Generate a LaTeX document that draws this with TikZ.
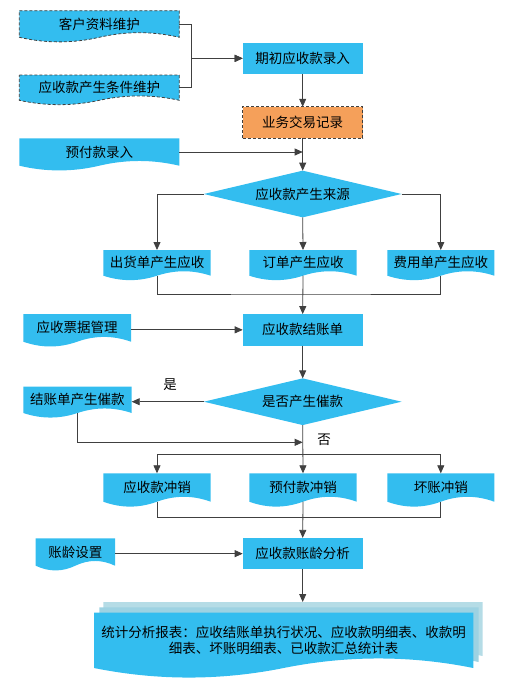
\documentclass[tikz,border=0pt]{standalone}
\usepackage{fontspec}
\newfontfamily\cjk{Noto Sans CJK SC}
\usetikzlibrary{shapes.geometric,arrows.meta}
\definecolor{cy}{HTML}{33BDEF}
\definecolor{orng}{HTML}{F5A05A}
\definecolor{backa}{HTML}{B5DCE6}
\definecolor{backb}{HTML}{9DD2E2}
\definecolor{ln}{HTML}{404040}
\newcommand\mkdoc[7]{%
  \pgfmathsetmacro\dw{#5-#3}%
  \pgfmathsetmacro\dh{#6-#4}%
  \pgfmathsetmacro\cc{0.23*\dh}%
  \pgfmathsetmacro\xa{#5-\dw/6}%
  \pgfmathsetmacro\xb{#3+2*\dw/3}%
  \pgfmathsetmacro\xm{#3+\dw/2}%
  \pgfmathsetmacro\xc{#3+\dw/3}%
  \pgfmathsetmacro\xd{#3+\dw/6}%
  \pgfmathsetmacro\yu{#6-\cc}%
  \pgfmathsetmacro\yd{#6+\cc}%
  \pgfmathsetmacro\ym{(#4+#6)/2}%
  \path[#1] (#3,#4) -- (#5,#4) -- (#5,#6) .. controls (\xa,\yu) and (\xb,\yu) .. (\xm,#6) .. controls (\xc,\yd) and (\xd,\yd) .. (#3,#6) -- cycle;
  \node[txt, minimum width=\dw pt, minimum height=\dh pt] (#2) at (\xm,\ym) {#7};
}
\begin{document}
\begin{tikzpicture}[x=1pt,y=-1pt,
  txt/.style={inner sep=0pt, outer sep=0pt, font=\cjk\fontsize{13.5}{16}\selectfont, text=black, align=center},
  docfill/.style={fill=cy},
  docdash/.style={fill=cy, draw=ln, line width=0.8pt, dash pattern=on 3pt off 2pt},
  procbox/.style={txt, fill=cy, minimum width=120pt, minimum height=31.5pt},
  decision/.style={txt, diamond, aspect=4.233, fill=cy, minimum width=197.7pt, minimum height=46.7pt},
  conn/.style={draw=ln, line width=0.8pt},
  arr/.style={conn, -{Triangle[length=8pt,width=7pt]}},
  lbl/.style={txt}]
\useasboundingbox (0,0) rectangle (514,686);
% top inputs
\mkdoc{docdash}{A}{19.3}{10.7}{179.3}{37.3}{客户资料维护}
\mkdoc{docdash}{B}{19.3}{75}{179.3}{100.3}{应收款产生条件维护}
\node[procbox] (C) at (302.7,58.35) {期初应收款录入};
\node[procbox, fill=orng, draw=ln, line width=0.8pt, dash pattern=on 3pt off 2pt] (D) at (302.7,122.5) {业务交易记录};
\mkdoc{docfill}{E}{19.3}{138.3}{179.3}{165.7}{预付款录入}
\node[decision] (F) at (302.7,194) {应收款产生来源};
\mkdoc{docfill}{G1}{103.3}{250}{210.7}{275.7}{出货单产生应收}
\mkdoc{docfill}{G2}{249.3}{250}{356.7}{275.7}{订单产生应收}
\mkdoc{docfill}{G3}{387.3}{250}{494.3}{275.7}{费用单产生应收}
\mkdoc{docfill}{H}{23.3}{314}{131}{341.7}{应收票据管理}
\node[procbox] (I) at (302.7,329.85) {应收款结账单};
\node[decision] (J) at (302.7,401.7) {是否产生催款};
\mkdoc{docfill}{K}{23.3}{386.7}{131.7}{413}{结账单产生催款}
\mkdoc{docfill}{L1}{103.3}{473.3}{210.7}{501.7}{应收款冲销}
\mkdoc{docfill}{L2}{249.3}{473.3}{356.7}{501.7}{预付款冲销}
\mkdoc{docfill}{L3}{387.3}{473.3}{494.3}{501.7}{坏账冲销}
\mkdoc{docfill}{M}{35.7}{538.3}{115}{565.7}{账龄设置}
\node[procbox] (N) at (302.7,553.65) {应收款账龄分析};
% multi document
\mkdoc{fill=backa}{O3}{103.3}{602}{482.7}{656}{}
\mkdoc{fill=backb}{O2}{99.3}{607.3}{478.7}{662}{}
\mkdoc{docfill}{O}{94}{612.7}{473.3}{668}{统计分析报表：应收结账单执行状况、应收款明细表、收款明\\细表、坏账明细表、已收款汇总统计表}
% helper coordinates
\coordinate (m1) at (302.7,294);
\coordinate (m2) at (302.7,442.3);
\coordinate (m3) at (302.7,454);
\coordinate (m4) at (302.7,517.7);
% connectors
\draw[arr] (A.east) -- ++(12.4,0) |- (C.west);
\draw[arr] (B.east) -- ++(12.4,0) |- (C.west);
\draw[arr] (C.south) -- (D.north);
\draw[arr] (D.south) -- (F.north);
\draw[arr] (E.east) -- (E.east -| D.south);
\draw[arr] (F.west) -| (G1.north);
\draw[arr] (F.south) -- (G2.north);
\draw[arr] (F.east) -| (G3.north);
\draw[conn] (G1.south) |- (m1) -| (G3.south);
\draw[arr] (G2.south) -- (I.north);
\draw[arr] (H.east |- I.west) -- (I.west);
\draw[arr] (I.south) -- (J.north);
\draw[arr] (J.west) -- (J.west -| K.east);
\node[lbl] (yes) at (170,385) {是};
\draw[arr] (K.south) |- (m2);
\draw[arr] (J.south) -- (L2.north);
\node[lbl] (no) at (324,440) {否};
\draw[arr] (m3) -| (L1.north);
\draw[arr] (m3) -| (L3.north);
\draw[conn] (L1.south) |- (m4) -| (L3.south);
\draw[arr] (L2.south) -- (N.north);
\draw[arr] (M.east |- N.west) -- (N.west);
\draw[arr] (N.south) -- (N.south |- O3.north);
\end{tikzpicture}
\end{document}
